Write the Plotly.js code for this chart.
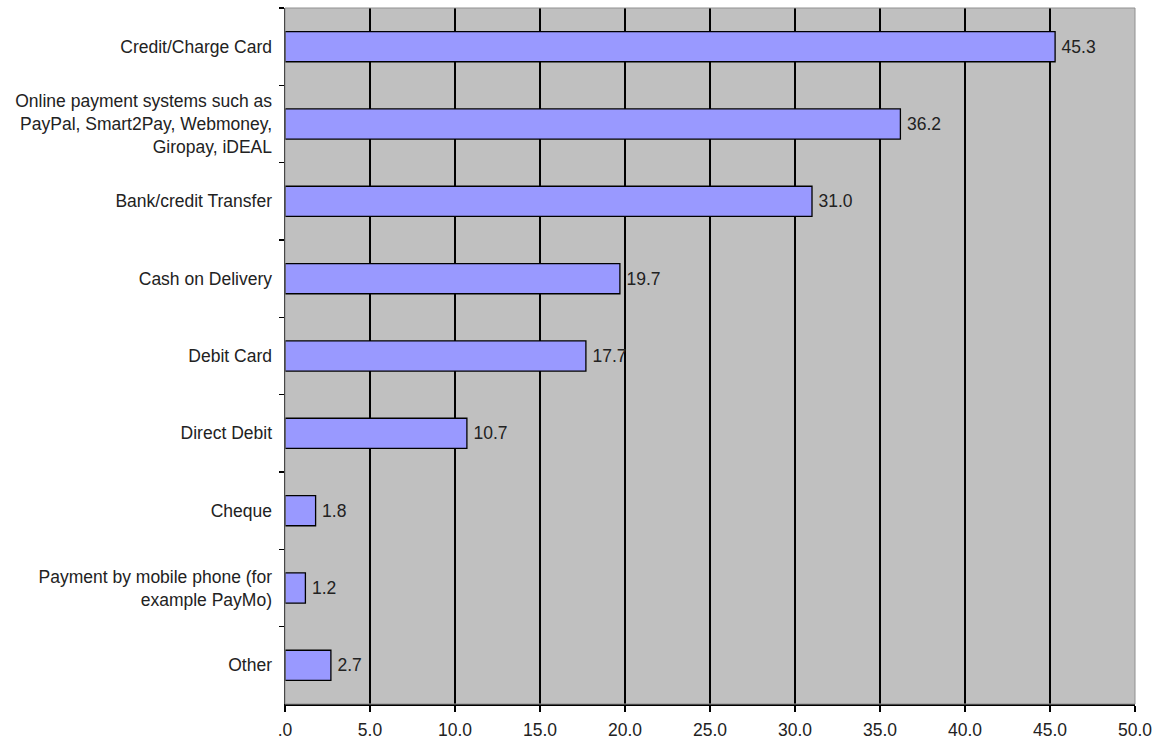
<!DOCTYPE html>
<html>
<head>
<meta charset="utf-8">
<script src="https://cdn.plot.ly/plotly-3.0.1.min.js"></script>
<style>html,body{margin:0;padding:0;background:#fff;}#chart{width:1155px;height:741px;}</style>
</head>
<body>
<div id="chart"></div>
<script>
const categories = [
  "Credit/Charge Card",
  "Online payment systems such as<br>PayPal, Smart2Pay, Webmoney,<br>Giropay, iDEAL",
  "Bank/credit Transfer",
  "Cash on Delivery",
  "Debit Card",
  "Direct Debit",
  "Cheque",
  "Payment by mobile phone (for<br>example PayMo)",
  "Other"
];
const values = [45.3, 36.2, 31.0, 19.7, 17.7, 10.7, 1.8, 1.2, 2.7];
const xTickVals = [0, 5, 10, 15, 20, 25, 30, 35, 40, 45, 50];
const xTickText = [".0", "5.0", "10.0", "15.0", "20.0", "25.0", "30.0", "35.0", "40.0", "45.0", "50.0"];

const trace = {
  type: 'bar',
  orientation: 'h',
  y: categories,
  x: values,
  width: 0.39,
  marker: {color: '#9999FF', line: {color: '#000000', width: 1.3}},
  text: values.map(v => '\u2009' + v.toFixed(1)),
  textposition: 'outside',
  cliponaxis: false,
  textfont: {family: 'Liberation Sans, Arial, sans-serif', size: 17.5, color: '#222222'},
  hoverinfo: 'none'
};

const layout = {
  width: 1155, height: 741,
  margin: {l: 285, r: 20, t: 8, b: 37, pad: 0},
  paper_bgcolor: '#ffffff',
  plot_bgcolor: '#C0C0C0',
  showlegend: false,
  font: {family: 'Liberation Sans, Arial, sans-serif', size: 17.5, color: '#222222'},
  xaxis: {
    range: [0, 50],
    tickvals: xTickVals,
    ticktext: xTickText,
    showgrid: true, gridcolor: '#000000', gridwidth: 1.5,
    zeroline: false,
    showline: true, linecolor: '#000000', linewidth: 1.5,
    ticks: 'outside', ticklen: 6, tickcolor: '#000000', tickwidth: 1.5,
    tickfont: {size: 17.5, color: '#222222'},
    ticklabelstandoff: 3,
    fixedrange: true
  },
  yaxis: {
    autorange: 'reversed',
    showgrid: false, zeroline: false,
    showline: true, linecolor: '#000000', linewidth: 1.5,
    ticks: 'outside', tickson: 'boundaries', ticklen: 5, tickcolor: '#000000', tickwidth: 1.5,
    tickfont: {size: 17.5, color: '#222222'},
    ticklabelstandoff: 8,
    fixedrange: true
  },
  bargap: 0.6,
  shapes: [{
    type: 'rect', xref: 'paper', yref: 'paper', x0: 0, x1: 1, y0: 0, y1: 1,
    line: {color: '#909090', width: 1}, fillcolor: 'rgba(0,0,0,0)', layer: 'above'
  }]
};

Plotly.newPlot('chart', [trace], layout, {displayModeBar: false, staticPlot: true});
</script>
</body>
</html>
